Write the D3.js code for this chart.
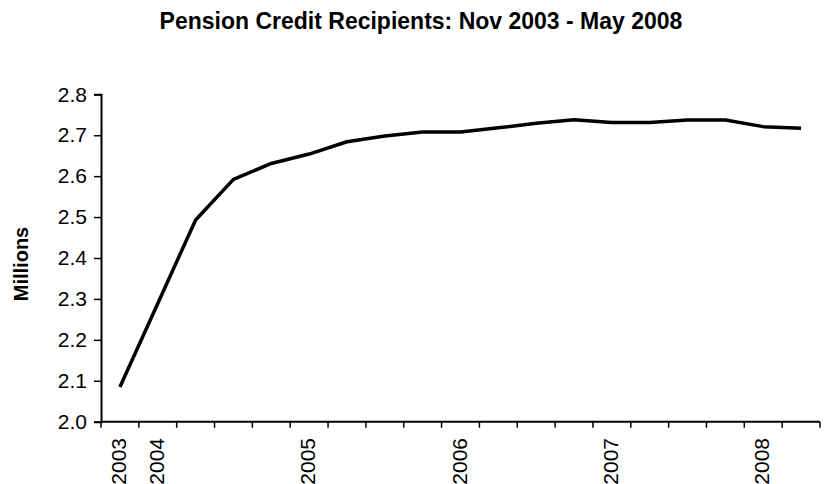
<!DOCTYPE html>
<html>
<head>
<meta charset="utf-8">
<script src="https://cdn.jsdelivr.net/npm/d3@7"></script>
<style>
  html, body { margin: 0; padding: 0; background: #fff; }
  svg { display: block; }
  text { font-family: "Liberation Sans", Arial, sans-serif; fill: #000; }
</style>
</head>
<body>
<svg id="chart" width="824" height="484"></svg>
<script>
// ---- data ----
const quarters = ["Nov 2003","Feb 2004","May 2004","Aug 2004","Nov 2004","Feb 2005","May 2005","Aug 2005","Nov 2005","Feb 2006","May 2006","Aug 2006","Nov 2006","Feb 2007","May 2007","Aug 2007","Nov 2007","Feb 2008","May 2008"];
const recipients = [2.085, 2.289, 2.493, 2.592, 2.631, 2.654, 2.684, 2.698, 2.708, 2.708, 2.718, 2.729, 2.738, 2.731, 2.731, 2.737, 2.737, 2.721, 2.717];
const yearLabels = {"Nov 2003":"2003","Feb 2004":"2004","Feb 2005":"2005","Feb 2006":"2006","Feb 2007":"2007","Feb 2008":"2008"};
const yTicks = [2.0, 2.1, 2.2, 2.3, 2.4, 2.5, 2.6, 2.7, 2.8];
const titleText = "Pension Credit Recipients: Nov 2003 - May 2008";
const yAxisTitle = "Millions";

// ---- layout ----
const svg = d3.select("#chart");
const mLeft = 101, mRight = 820, mTop = 94.3, mBottom = 421.7;

const x = d3.scaleBand().domain(quarters).range([mLeft, mRight]).padding(0);
const y = d3.scaleLinear().domain([2.0, 2.8]).range([mBottom, mTop]);

// title
svg.append("text")
  .attr("x", 421).attr("y", 29)
  .attr("text-anchor", "middle")
  .style("font-weight", "bold").style("font-size", "23px")
  .text(titleText);

// y axis title
svg.append("text")
  .attr("transform", `translate(28,${(mTop + mBottom) / 2 + 6}) rotate(-90)`)
  .attr("text-anchor", "middle")
  .style("font-weight", "bold").style("font-size", "20px")
  .text(yAxisTitle);

// y axis
const yAxis = d3.axisLeft(y).tickValues(yTicks).tickFormat(d3.format(".1f")).tickSize(7).tickPadding(7);
const gy = svg.append("g").attr("transform", `translate(${mLeft},0)`).call(yAxis);
gy.select(".domain").attr("stroke", "#000").attr("stroke-width", 2);
gy.selectAll(".tick line").attr("stroke", "#000").attr("stroke-width", 1.5);
gy.selectAll(".tick text").style("font-size", "21px").style("font-family", '"Liberation Sans", Arial, sans-serif').attr("fill", "#000");

// x axis line
svg.append("line").attr("x1", mLeft).attr("x2", mRight).attr("y1", mBottom).attr("y2", mBottom)
  .attr("stroke", "#000").attr("stroke-width", 2);

// x ticks at band boundaries
const boundaries = quarters.map(q => x(q)).concat([x(quarters[quarters.length - 1]) + x.bandwidth()]);
svg.append("g").selectAll("line").data(boundaries).join("line")
  .attr("x1", d => d).attr("x2", d => d)
  .attr("y1", mBottom).attr("y2", mBottom + 6)
  .attr("stroke", "#000").attr("stroke-width", 1.5);

// x labels
svg.append("g").selectAll("text").data(quarters.filter(q => yearLabels[q])).join("text")
  .attr("transform", q => `translate(${x(q) + x.bandwidth() / 2 + 6},438) rotate(-90)`)
  .attr("text-anchor", "end")
  .style("font-size", "21px")
  .text(q => yearLabels[q]);

// line
const line = d3.line().x((d, i) => x(quarters[i]) + x.bandwidth() / 2).y(d => y(d));
svg.append("path").datum(recipients)
  .attr("d", line)
  .attr("fill", "none").attr("stroke", "#000").attr("stroke-width", 3.5)
  .attr("stroke-linejoin", "round");
</script>
</body>
</html>
